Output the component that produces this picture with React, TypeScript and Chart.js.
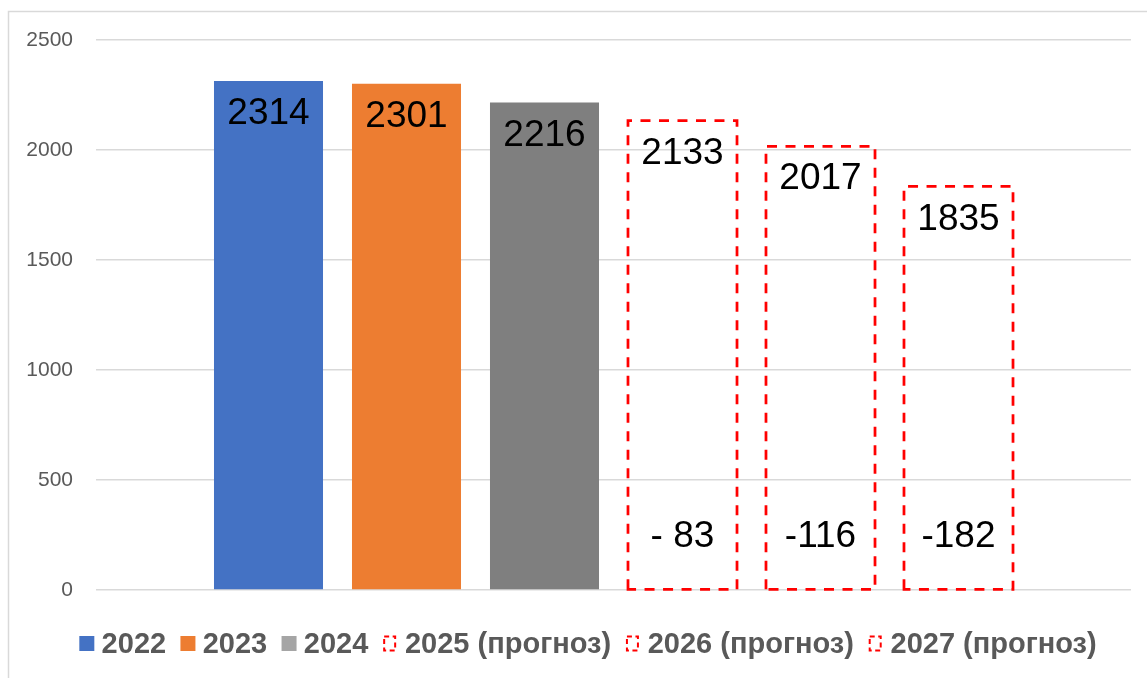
import React, { useEffect, useRef } from "react";
import { Chart, registerables } from "chart.js";

Chart.register(...registerables);

// ---- data ----
const categories = [""];
const seriesLabels = ["2022", "2023", "2024", "2025 (прогноз)", "2026 (прогноз)", "2027 (прогноз)"];
const seriesValues = [2314, 2301, 2216, 2133, 2017, 1835];
const changeLabels = ["", "", "", "- 83", "-116", "-182"];
const isForecast = [false, false, false, true, true, true];
const yMin = 0;
const yMax = 2500;
const yStep = 500;

// ---- styles ----
const barColors = ["#4472C4", "#ED7D31", "#7F7F7F", "rgba(0,0,0,0)", "rgba(0,0,0,0)", "rgba(0,0,0,0)"];
const legendColors = ["#4472C4", "#ED7D31", "#A5A5A5", "", "", ""];
const DASH_RED = "#FF0000";
const FONT = "'Liberation Sans', Arial, sans-serif";

const framePlugin = {
  id: "frame",
  beforeDraw(chart: any) {
    const { ctx, width, height } = chart;
    ctx.save();
    ctx.fillStyle = "#FFFFFF";
    ctx.fillRect(0, 0, width, height);
    ctx.strokeStyle = "#D9D9D9";
    ctx.lineWidth = 1.5;
    ctx.strokeRect(8.5, 11.5, width + 20, height + 20);
    ctx.restore();
  },
};

const barDecorPlugin = {
  id: "barDecor",
  afterDatasetsDraw(chart: any) {
    const { ctx } = chart;
    const yScale = chart.scales.y;
    ctx.save();
    chart.data.datasets.forEach((ds: any, i: number) => {
      const meta = chart.getDatasetMeta(i);
      const el: any = meta.data[0];
      if (!el) return;
      const left = el.x - el.width / 2;
      const right = el.x + el.width / 2;
      const top = el.y;
      const base = el.base;
      if (isForecast[i]) {
        ctx.strokeStyle = DASH_RED;
        ctx.lineWidth = 2.75;
        ctx.setLineDash([10, 8.5]);
        ctx.beginPath();
        ctx.moveTo(left, base);
        ctx.lineTo(left, top);
        ctx.lineTo(right, top);
        ctx.lineTo(right, base);
        ctx.closePath();
        ctx.stroke();
        ctx.setLineDash([]);
      }
      ctx.fillStyle = "#000000";
      ctx.font = `37px ${FONT}`;
      ctx.textAlign = "center";
      ctx.textBaseline = "middle";
      ctx.fillText(String(ds.data[0]), el.x, top + 33);
      if (changeLabels[i]) {
        ctx.fillText(changeLabels[i], el.x, yScale.getPixelForValue(0) - 53);
      }
    });
    ctx.restore();
  },
};

const legendPlugin = {
  id: "customLegend",
  afterDraw(chart: any) {
    const { ctx } = chart;
    const boxSize = 15;
    const boxGap = 7.3;
    const itemGap = 14.3;
    const centerX = 588;
    const baseline = 653.3;
    ctx.save();
    ctx.font = `bold 29px ${FONT}`;
    const widths = chart.data.datasets.map((ds: any) => ctx.measureText(ds.label).width);
    const total = widths.reduce((a: number, w: number) => a + w + boxSize + boxGap, 0) + itemGap * (widths.length - 1);
    let x = centerX - total / 2;
    chart.data.datasets.forEach((ds: any, i: number) => {
      if (isForecast[i]) {
        ctx.strokeStyle = DASH_RED;
        ctx.lineWidth = 2;
        ctx.setLineDash([5, 3.5]);
        ctx.strokeRect(x + 1.5, 636.5, 11, 14);
        ctx.setLineDash([]);
      } else {
        ctx.fillStyle = legendColors[i];
        ctx.fillRect(x, 636, boxSize, boxSize);
      }
      x += boxSize + boxGap;
      ctx.fillStyle = "#595959";
      ctx.textAlign = "left";
      ctx.textBaseline = "alphabetic";
      ctx.fillText(ds.label, x, baseline);
      x += widths[i] + itemGap;
    });
    ctx.restore();
  },
};

export default function App() {
  const canvasRef = useRef<HTMLCanvasElement | null>(null);

  useEffect(() => {
    if (!canvasRef.current) return;
    const chart = new Chart(canvasRef.current, {
      type: "bar",
      data: {
        labels: categories,
        datasets: seriesLabels.map((label, i) => ({
          label,
          data: [seriesValues[i]],
          backgroundColor: barColors[i],
          borderWidth: 0,
          barPercentage: 0.79,
          categoryPercentage: 0.8,
        })),
      },
      options: {
        animation: false,
        responsive: false,
        devicePixelRatio: 1,
        events: [],
        layout: { padding: { top: 40, left: 26, right: 16, bottom: 88 } },
        plugins: {
          tooltip: { enabled: false },
          legend: { display: false },
        },
        scales: {
          x: {
            display: false,
          },
          y: {
            min: yMin,
            max: yMax,
            border: { display: false },
            grid: { color: "#D9D9D9", lineWidth: 1.5, drawTicks: false },
            ticks: {
              stepSize: yStep,
              padding: 23,
              color: "#595959",
              font: { family: FONT, size: 21 },
              callback: (v: any) => String(v),
            },
            afterFit(scale: any) {
              scale.width = 70;
            },
          },
        },
      },
      plugins: [framePlugin, barDecorPlugin, legendPlugin],
    });
    return () => chart.destroy();
  }, []);

  return (
    <div style={{ position: "fixed", left: 0, top: 0, width: 1147, height: 678, background: "#fff" }}>
      <canvas ref={canvasRef} width={1147} height={678} style={{ display: "block" }} />
    </div>
  );
}
